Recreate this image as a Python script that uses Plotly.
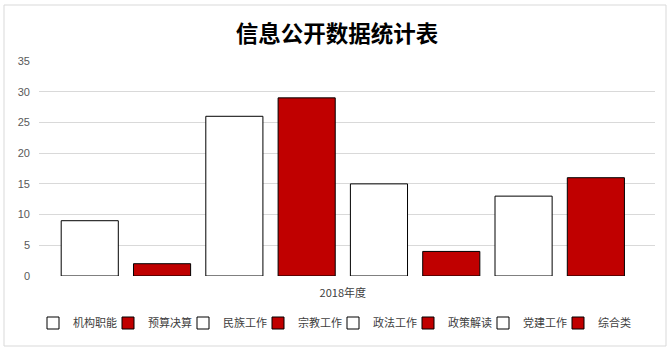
import plotly.graph_objects as go

title_text = "信息公开数据统计表"
category = ["2018年度"]
series_names = ["机构职能", "预算决算", "民族工作", "宗教工作", "政法工作", "政策解读", "党建工作", "综合类"]
series_values = [9, 2, 26, 29, 15, 4, 13, 16]
series_colors = ["#FFFFFF", "#C00000", "#FFFFFF", "#C00000", "#FFFFFF", "#C00000", "#FFFFFF", "#C00000"]
y_ticks = [0, 5, 10, 15, 20, 25, 30, 35]

CJK = "Noto Sans CJK SC, Noto Sans, sans-serif"

fig = go.Figure()
for name, val, col in zip(series_names, series_values, series_colors):
    fig.add_trace(go.Bar(
        x=category, y=[val], name=name,
        marker=dict(color=col, line=dict(color="#000000", width=1)),
    ))

W, H = 670, 353
ml, mr, mt, mb = 39, 15, 61, 77
pw, ph = W - ml - mr, H - mt - mb

def px(x):
    return (x - ml) / pw

def py(y):
    return (H - mb - y) / ph

fig.update_layout(
    width=W, height=H,
    margin=dict(l=ml, r=mr, t=mt, b=mb, pad=0),
    paper_bgcolor="#FFFFFF", plot_bgcolor="#FFFFFF",
    barmode="group", bargap=0.061, bargroupgap=0.21,
    title=dict(text="<b>" + title_text + "</b>", xref="container", x=337 / W, xanchor="center",
               y=1 - 34 / H, yanchor="middle",
               font=dict(family=CJK, size=22.5, color="#000000")),
    xaxis=dict(range=[-0.4932, 0.5068], showgrid=False, zeroline=False, showline=False,
               ticks="", ticklabelstandoff=9,
               tickfont=dict(family=CJK, size=11, color="#404040")),
    yaxis=dict(range=[0, 35], tickvals=y_ticks, showgrid=True, gridcolor="#D9D9D9",
               gridwidth=1, zeroline=False, showline=False, ticks="",
               ticklabelstandoff=8,
               tickfont=dict(family="Liberation Sans, Arial, sans-serif", size=11, color="#595959")),
    legend=dict(orientation="h", x=px(33), xanchor="left", y=py(323), yanchor="middle",
                entrywidth=30, entrywidthmode="pixels", traceorder="normal",
                font=dict(family=CJK, size=11, color="#404040"),
                bgcolor="rgba(0,0,0,0)"),
    shapes=[dict(type="rect", xref="paper", yref="paper",
                 x0=px(4), x1=px(666), y0=py(346), y1=py(5),
                 line=dict(color="#D9D9D9", width=1), fillcolor="rgba(0,0,0,0)", layer="below")],
    showlegend=True,
)

fig.write_html("out.html")
